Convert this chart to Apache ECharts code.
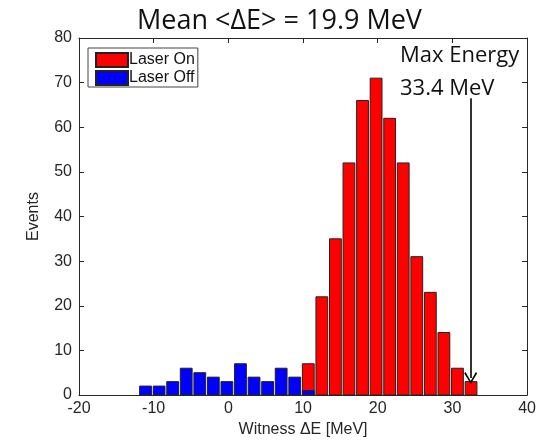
<!DOCTYPE html>
<html>
<head>
<meta charset="utf-8">
<script src="https://cdn.jsdelivr.net/npm/echarts@6/dist/echarts.min.js"></script>
</head>
<body style="margin: 0; background: #fff">
<div id="chart" style="width: 539px; height: 443px"></div>
<script type="text/javascript">
// histogram bins (shared by both series)
var binLo = -12;
var binHi = 33.4;
var nBins = 25;
var laserOn = [0, 0, 0, 0, 0, 0, 0, 0, 0, 0, 0, 0, 7, 22, 35, 52, 66, 71, 62, 52, 31, 23, 14, 6, 3];
var laserOff = [2, 2, 3, 6, 5, 4, 3, 7, 4, 3, 6, 4, 1, 0, 0, 0, 0, 0, 0, 0, 0, 0, 0, 0, 0];
var xTicks = [-20, 40, 10];
var yTicks = [0, 80, 10];
var meanDE = 19.9;
var maxE = 33.4;
var arrowTop = 66.5;
var arrowTip = 3.8;

var binW = (binHi - binLo) / nBins;

function toBins(counts) {
    var out = [];
    for (var i = 0; i < counts.length; i++) {
        if (counts[i] > 0) {
            out.push([binLo + i * binW, binLo + (i + 1) * binW, counts[i]]);
        }
    }
    return out;
}

function renderBar(params, api) {
    var a = api.coord([api.value(0), api.value(2)]);
    var b = api.coord([api.value(1), 0]);
    var w = b[0] - a[0];
    var gap = w * 0.13;
    return {
        type: 'rect',
        shape: { x: a[0] + gap / 2, y: a[1], width: w - gap, height: b[1] - a[1] },
        style: api.style()
    };
}

var axisCol = '#262626';
var labelFont = { fontFamily: 'Liberation Sans', fontSize: 16, color: '#262626' };

function frameAxis(pos, t) {
    return {
        type: 'value', position: pos,
        min: t[0], max: t[1], interval: t[2],
        axisLine: { show: true, onZero: false, lineStyle: { color: axisCol, width: 1 } },
        axisTick: { show: true, inside: true, length: 5, lineStyle: { color: axisCol } },
        axisLabel: { show: false },
        splitLine: { show: false }
    };
}

var chart = echarts.init(document.getElementById('chart'));
var option = {
    animation: false,
    backgroundColor: '#fff',
    title: {
        text: 'Mean <ΔE> = ' + meanDE + ' MeV',
        left: 132,
        top: 3,
        textStyle: { fontFamily: 'Open Sans', fontWeight: 'normal', fontSize: 27, color: '#111' }
    },
    grid: { left: 79, right: 7, top: 38, bottom: 48 },
    legend: {
        left: 88,
        top: 48,
        orient: 'vertical',
        icon: 'rect',
        itemWidth: 32,
        itemHeight: 14,
        itemGap: 2,
        padding: [4, 3, 1, 7],
        borderColor: '#444',
        borderWidth: 1,
        borderRadius: 0,
        backgroundColor: '#fff',
        textStyle: { fontFamily: 'Liberation Sans', fontSize: 16, color: '#111', padding: [0, 0, 0, -4] },
        data: ['Laser On', 'Laser Off']
    },
    xAxis: [{
        type: 'value',
        min: xTicks[0], max: xTicks[1], interval: xTicks[2],
        name: 'Witness ΔE [MeV]',
        nameLocation: 'middle',
        nameGap: 24,
        nameTextStyle: labelFont,
        axisLine: { onZero: false, lineStyle: { color: axisCol } },
        axisTick: { inside: true, length: 5, lineStyle: { color: axisCol } },
        axisLabel: Object.assign({ margin: 6 }, labelFont),
        splitLine: { show: false }
    }, frameAxis('top', xTicks)],
    yAxis: [{
        type: 'value',
        min: yTicks[0], max: yTicks[1], interval: yTicks[2],
        name: 'Events',
        nameLocation: 'middle',
        nameGap: 37,
        nameTextStyle: labelFont,
        axisLine: { show: true, onZero: false, lineStyle: { color: axisCol } },
        axisTick: { show: true, inside: true, length: 5, lineStyle: { color: axisCol } },
        axisLabel: Object.assign({ margin: 7 }, labelFont),
        splitLine: { show: false }
    }, frameAxis('right', yTicks)],
    graphic: [{
        type: 'text', left: 400, top: 45,
        style: { text: 'Max Energy', font: '22px "Open Sans"', fill: '#111' }
    }, {
        type: 'text', left: 400, top: 78,
        style: { text: maxE + ' MeV', font: '22px "Open Sans"', fill: '#111' }
    }],
    series: [{
        name: 'Laser On',
        type: 'custom',
        renderItem: renderBar,
        encode: { x: [0, 1], y: 2 },
        itemStyle: { color: '#ff0000', borderColor: '#222', borderWidth: 1 },
        data: toBins(laserOn),
        markLine: {
            silent: true,
            symbol: ['none', 'path://M5,0 L10,9 L9,10 L5,2.6 L1,10 L0,9 Z'],
            symbolSize: [13, 12],
            label: { show: false },
            lineStyle: { color: '#000', width: 1.6, type: 'solid' },
            data: [[{ coord: [32.45, arrowTop] }, { coord: [32.45, arrowTip] }]]
        }
    }, {
        name: 'Laser Off',
        type: 'custom',
        renderItem: renderBar,
        encode: { x: [0, 1], y: 2 },
        itemStyle: { color: '#0000ff', borderColor: '#222', borderWidth: 1 },
        data: toBins(laserOff)
    }]
};
chart.setOption(option);
</script>
</body>
</html>
